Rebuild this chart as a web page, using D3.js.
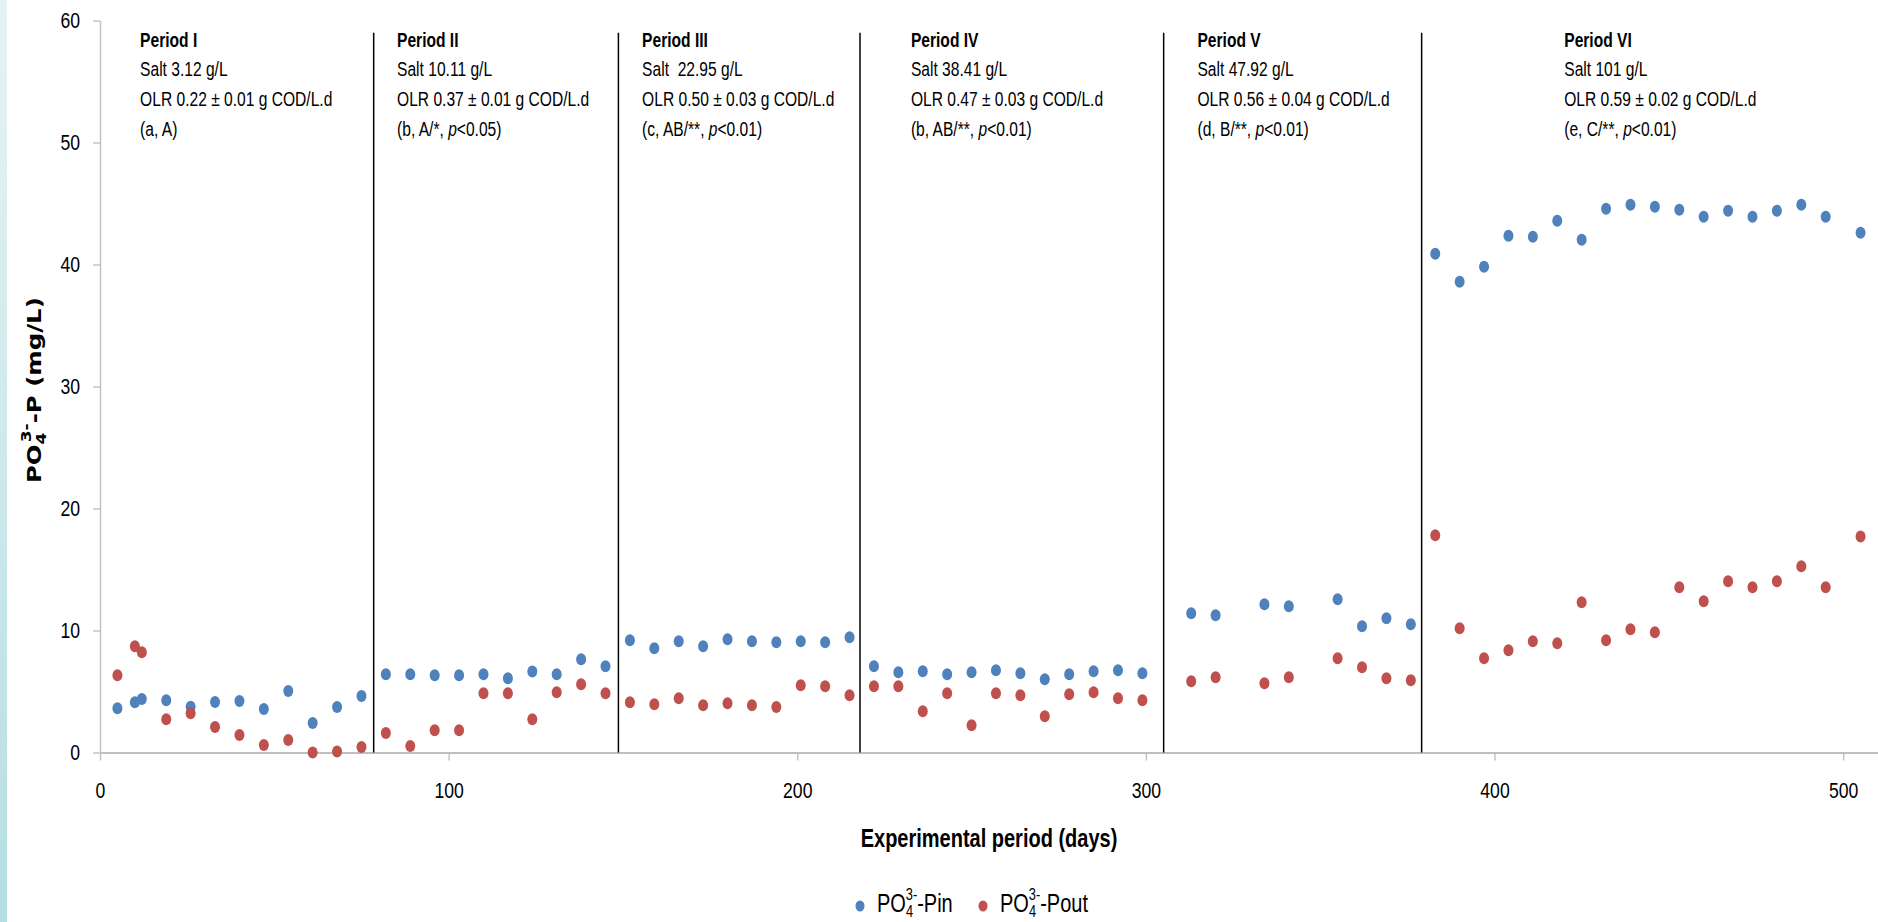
<!DOCTYPE html>
<html>
<head>
<meta charset="utf-8">
<script src="https://cdn.jsdelivr.net/npm/d3@7"></script>
<style>
  html, body { margin: 0; padding: 0; background: #fff; }
  svg { display: block; }
  text { font-family: "Liberation Sans", Arial, sans-serif; fill: #000; }
</style>
</head>
<body>
<svg id="chart" width="1878" height="922"></svg>
<script>
// ---------------- data ----------------
const days = [5, 10, 12, 19, 26, 33, 40, 47, 54, 61, 68, 75,
  82, 89, 96, 103, 110, 117, 124, 131, 138, 145,
  152, 159, 166, 173, 180, 187, 194, 201, 208, 215,
  222, 229, 236, 243, 250, 257, 264, 271, 278, 285, 292, 299,
  313, 320, 334, 341, 355, 362, 369, 376,
  383, 390, 397, 404, 411, 418, 425, 432, 439, 446, 453, 460, 467, 474, 481, 488, 495, 505];

const pin = [3.62, 4.11, 4.39, 4.28, 3.76, 4.14, 4.22, 3.57, 5.04, 2.42, 3.73, 4.63,
  6.41, 6.41, 6.33, 6.33, 6.41, 6.08, 6.63, 6.41, 7.64, 7.07,
  9.2, 8.54, 9.11, 8.7, 9.28, 9.11, 9.03, 9.11, 9.03, 9.44,
  7.07, 6.57, 6.66, 6.41, 6.57, 6.74, 6.49, 6.0, 6.41, 6.66, 6.74, 6.49,
  11.41, 11.25, 12.15, 11.98, 12.56, 10.34, 11.0, 10.51,
  40.88, 38.59, 39.82, 42.36, 42.28, 43.59, 42.03, 44.57, 44.9, 44.74, 44.49, 43.92, 44.41, 43.92, 44.41, 44.9, 43.92, 42.6];

const pout = [6.33, 8.7, 8.21, 2.72, 3.21, 2.09, 1.43, 0.61, 1.02, 0.0, 0.08, 0.45,
  1.6, 0.53, 1.82, 1.82, 4.85, 4.85, 2.72, 4.93, 5.59, 4.85,
  4.11, 3.95, 4.44, 3.87, 4.03, 3.87, 3.73, 5.51, 5.43, 4.69,
  5.43, 5.43, 3.38, 4.85, 2.23, 4.85, 4.69, 2.97, 4.77, 4.93, 4.44, 4.28,
  5.84, 6.16, 5.67, 6.16, 7.72, 6.98, 6.08, 5.92,
  17.8, 10.18, 7.72, 8.38, 9.11, 8.95, 12.31, 9.2, 10.1, 9.85, 13.54, 12.39, 14.03, 13.54, 14.03, 15.26, 13.54, 17.7];

const periodBoundaries = [78.5, 148.7, 218, 305.1, 379.1];
const periodNames = ["Period I", "Period II", "Period III", "Period IV", "Period V", "Period VI"];
const periodSalt = ["Salt 3.12 g/L", "Salt 10.11 g/L", "Salt  22.95 g/L", "Salt 38.41 g/L", "Salt 47.92 g/L", "Salt 101 g/L"];
const periodOLR = ["OLR 0.22 \u00b1 0.01 g COD/L.d", "OLR 0.37 \u00b1 0.01 g COD/L.d", "OLR 0.50 \u00b1 0.03 g COD/L.d",
  "OLR 0.47 \u00b1 0.03 g COD/L.d", "OLR 0.56 \u00b1 0.04 g COD/L.d", "OLR 0.59 \u00b1 0.02 g COD/L.d"];
const periodGroups = ["a, A", "b, A/*", "c, AB/**", "b, AB/**", "d, B/**", "e, C/**"];
const periodP = [null, "<0.05", "<0.01", "<0.01", "<0.01", "<0.01"];

const xTicks = [0, 100, 200, 300, 400, 500];
const yTicks = [0, 10, 20, 30, 40, 50, 60];

// ---------------- layout ----------------
const SX = 0.8; // horizontal condensing to mimic a narrow face
const labelDays = [11.5, 85.2, 155.5, 232.6, 314.8, 420];
const svg = d3.select("#chart");
const x = d3.scaleLinear().domain([0, 510]).range([100, 1878]);
const y = d3.scaleLinear().domain([0, 60]).range([752.5, 20.5]);

function narrowText(parent, px, py, size) {
  return parent.append("g").attr("transform", `translate(${px},${py}) scale(${SX},1)`)
    .append("text").attr("x", 0).attr("y", 0).attr("font-size", size);
}

// left decorative strip
const defs = svg.append("defs");
const g1 = defs.append("linearGradient").attr("id", "strip").attr("x1", 0).attr("y1", 0).attr("x2", 0).attr("y2", 1);
g1.append("stop").attr("offset", "0%").attr("stop-color", "#e6f3f5");
g1.append("stop").attr("offset", "100%").attr("stop-color", "#b5dee2");
svg.append("rect").attr("x", 0).attr("y", 0).attr("width", 7).attr("height", 922).attr("fill", "url(#strip)");

// axes
const yAxis = svg.append("g").attr("transform", `translate(${x(0)},0)`)
  .call(d3.axisLeft(y).tickValues(yTicks).tickSize(7).tickPadding(13).tickSizeOuter(0));
yAxis.select(".domain").attr("stroke", "#bfbfbf").attr("stroke-width", 1.4);
yAxis.selectAll(".tick line").attr("stroke", "#bfbfbf").attr("stroke-width", 1.4);
yAxis.selectAll(".tick text").attr("font-size", 22).attr("font-family", '"Liberation Sans", Arial, sans-serif')
  .attr("fill", "#000").attr("x", -20 / SX).attr("transform", `scale(${SX},1)`);

const xAxis = svg.append("g").attr("transform", `translate(0,${y(0)})`)
  .call(d3.axisBottom(x).tickValues(xTicks).tickSize(8).tickPadding(22).tickSizeOuter(0));
xAxis.select(".domain").attr("stroke", "#bfbfbf").attr("stroke-width", 2.2);
xAxis.selectAll(".tick line").attr("stroke", "#bfbfbf").attr("stroke-width", 1.4);
xAxis.selectAll(".tick text").attr("font-size", 22).attr("font-family", '"Liberation Sans", Arial, sans-serif')
  .attr("fill", "#000").attr("transform", `scale(${SX},1)`);

// period separators
svg.append("g").selectAll("line").data(periodBoundaries).join("line")
  .attr("x1", d => x(d)).attr("x2", d => x(d))
  .attr("y1", y(0)).attr("y2", y(59))
  .attr("stroke", "#000").attr("stroke-width", 1.5);

// period annotations
const ann = svg.append("g");
periodNames.forEach((name, i) => {
  const gx = x(labelDays[i]);
  narrowText(ann, gx, 47, 19.5).attr("font-weight", "bold").text(name);
  narrowText(ann, gx, 76, 19.5).style("white-space", "pre").text(periodSalt[i]);
  narrowText(ann, gx, 106, 19.5).text(periodOLR[i]);
  const s = narrowText(ann, gx, 136, 19.5);
  if (periodP[i] === null) {
    s.text("(" + periodGroups[i] + ")");
  } else {
    s.append("tspan").text("(" + periodGroups[i] + ", ");
    s.append("tspan").attr("font-style", "italic").text("p");
    s.append("tspan").text(periodP[i] + ")");
  }
});

// points
const blue = "#4f81bd", red = "#c0504d";
const pts = svg.append("g");
pts.selectAll("ellipse.pin").data(days.map((d, i) => [d, pin[i]])).join("ellipse")
  .attr("class", "pin").attr("cx", d => x(d[0])).attr("cy", d => y(d[1]))
  .attr("rx", 5).attr("ry", 6).attr("fill", blue);
pts.selectAll("ellipse.pout").data(days.map((d, i) => [d, pout[i]])).join("ellipse")
  .attr("class", "pout").attr("cx", d => x(d[0])).attr("cy", d => y(d[1]))
  .attr("rx", 5).attr("ry", 6).attr("fill", red);

// axis titles
narrowText(svg, 989, 847, 25).attr("text-anchor", "middle").attr("font-weight", "bold")
  .text("Experimental period (days)");

const yl = svg.append("text").attr("transform", "translate(41,483) rotate(-90) scale(1.22,1)")
  .attr("text-anchor", "start").attr("font-size", 20).attr("font-weight", "bold")
  .style("font-family", '"DejaVu Sans", Verdana, sans-serif');
yl.append("tspan").text("PO");
yl.append("tspan").attr("font-size", 14).attr("dy", 5).text("4");
yl.append("tspan").attr("font-size", 14).attr("dx", -8).attr("dy", -15).text("3-");
yl.append("tspan").attr("dy", 10).text("-P (mg/L)");

// legend
const legendItems = ["Pin", "Pout"];
const legendColors = [blue, red];
const legendX = [860, 983];
const lg = svg.append("g");
legendItems.forEach((name, i) => {
  lg.append("ellipse").attr("cx", legendX[i]).attr("cy", 906).attr("rx", 4.5).attr("ry", 5.5).attr("fill", legendColors[i]);
  const t = narrowText(lg, legendX[i] + 17, 912, 25);
  t.append("tspan").text("PO");
  t.append("tspan").attr("font-size", 16).attr("dy", 5).text("4");
  t.append("tspan").attr("font-size", 16).attr("dx", -9).attr("dy", -17).text("3-");
  t.append("tspan").attr("dy", 12).text("-" + name);
});
</script>
</body>
</html>
